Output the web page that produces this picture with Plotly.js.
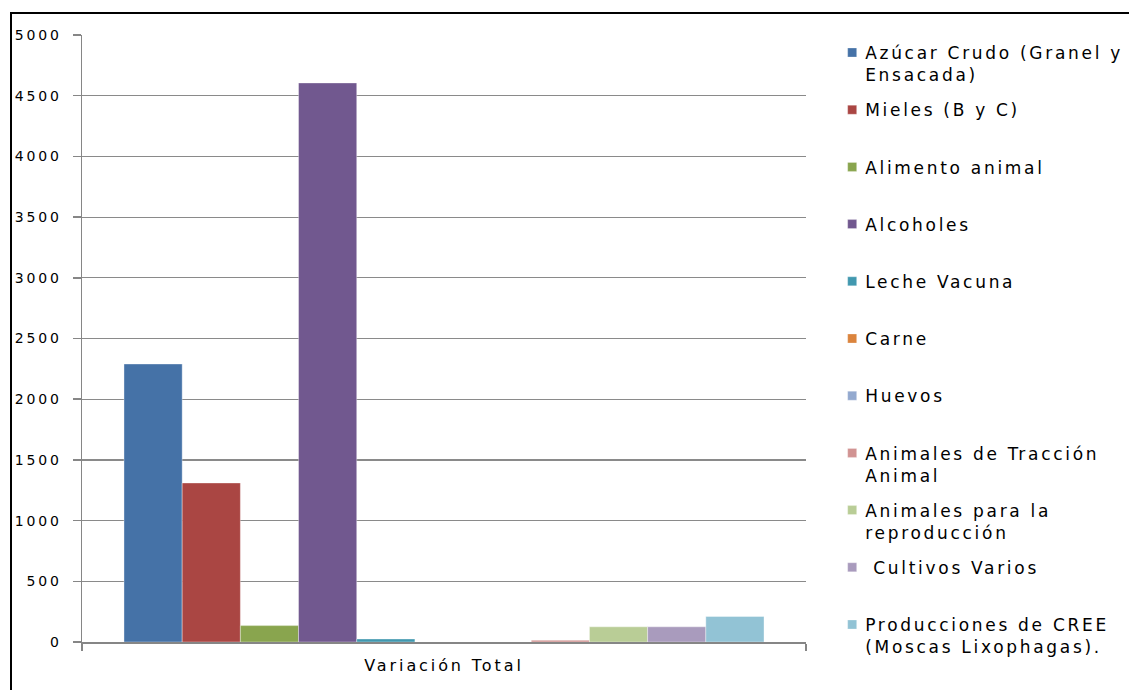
<!DOCTYPE html>
<html>
<head>
<meta charset="utf-8">
<script src="https://cdn.plot.ly/plotly-3.0.1.min.js"></script>
<style>
  html, body { margin: 0; padding: 0; background: #fff; overflow: hidden; }
  #frame { position: absolute; left: 10px; top: 12px; width: 1119px; height: 678px;
           border-left: 2px solid #000; border-top: 2px solid #000; }
  #chart { width: 1117px; height: 676px; }
  .legendtext { letter-spacing: 2.7px; }
  #chart .ytick text { letter-spacing: 2.8px; }
  #chart .xtick text { letter-spacing: 2.9px; }
  #chart .legendsymbols path { transform-box: fill-box; transform-origin: center;
                               transform: translate(27px, 0px) scale(0.75) !important; }
</style>
</head>
<body>
<div id="frame"><div id="chart"></div></div>
<script>
// ---- data ----
const categories = ['Variación Total'];
const seriesNames = [
  'Azúcar Crudo (Granel y<br>Ensacada)',
  'Mieles (B y C)',
  'Alimento animal',
  'Alcoholes',
  'Leche Vacuna',
  'Carne',
  'Huevos',
  'Animales de Tracción<br>Animal',
  'Animales para la<br>reproducción',
  ' Cultivos Varios',
  'Producciones de CREE<br>(Moscas Lixophagas).'
];
const seriesValues = [2290, 1310, 135, 4605, 25, 0, 0, 15, 125, 125, 210];
const seriesColors = ['#4572A7', '#AA4643', '#89A54E', '#71588F', '#4198AF', '#DB843D',
                      '#93A9CF', '#D19392', '#B9CD96', '#A99BBD', '#92C3D5'];
const yTickValues = [0, 500, 1000, 1500, 2000, 2500, 3000, 3500, 4000, 4500, 5000];

// every legend entry takes two lines so the entries are evenly spaced as in the reference
function twoLines(name) {
  return name.indexOf('<br>') >= 0 ? name : name + '<br> ';
}

const traces = seriesNames.map((name, i) => ({
  type: 'bar',
  name: twoLines(name),
  x: categories,
  y: [seriesValues[i]],
  legendgroup: 'g' + i,
  marker: { color: seriesColors[i], line: { width: 0.6, color: 'rgba(255,255,255,0.6)' } },
  hoverinfo: 'none'
}));

const font = 'DejaVu Sans, Verdana, sans-serif';
const layout = {
  width: 1117, height: 676,
  margin: { l: 70, r: 323, t: 21, b: 48, pad: 0 },
  paper_bgcolor: '#fff', plot_bgcolor: '#fff',
  barmode: 'group', bargap: 0.116, bargroupgap: 0,
  font: { family: font, color: '#000' },
  showlegend: true,
  legend: {
    traceorder: 'grouped', tracegroupgap: 10, valign: 'top', maxheight: 700,
    x: 0.728, xref: 'container', xanchor: 'left',
    y: 0.969, yref: 'container', yanchor: 'top',
    font: { family: font, size: 17, color: '#000' },
    bgcolor: 'rgba(0,0,0,0)', borderwidth: 0
  },
  xaxis: {
    type: 'category', showgrid: false, showline: true, linecolor: '#868686', linewidth: 1.5,
    ticks: 'outside', tickson: 'boundaries', ticklen: 7, tickcolor: '#868686', tickwidth: 1.5,
    tickfont: { family: font, size: 16, color: '#000' }, ticklabelstandoff: 8
  },
  yaxis: {
    range: [0, 5000], tickvals: yTickValues, ticktext: yTickValues.map(String),
    showgrid: true, gridcolor: '#8a8a8a', gridwidth: 1.2,
    showline: true, linecolor: '#868686', linewidth: 1.5, zeroline: false,
    ticks: 'outside', ticklen: 8, tickcolor: '#868686', tickwidth: 1.5,
    tickfont: { family: font, size: 14, color: '#000' }, ticklabelstandoff: 8
  }
};

Plotly.newPlot('chart', traces, layout, { staticPlot: true, displayModeBar: false });
</script>
</body>
</html>
